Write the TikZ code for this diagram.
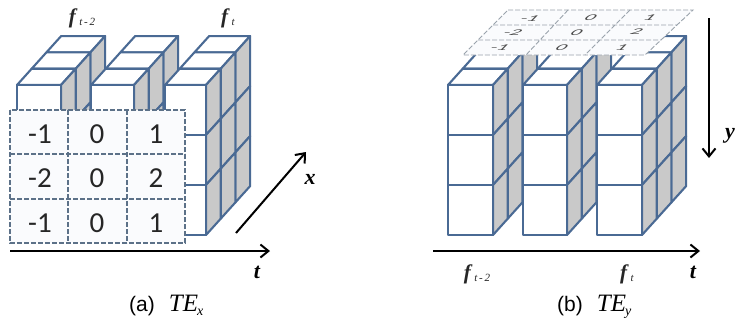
\documentclass[tikz,border=0pt]{standalone}
\usepackage{fontspec}
\setmainfont{Liberation Sans}
\newfontfamily\lblfont{Liberation Serif}
\newfontfamily\numfont{Carlito}
\usetikzlibrary{arrows.meta}
\definecolor{barblue}{HTML}{4A6A94}
\definecolor{sidegray}{HTML}{C9C9C9}
\definecolor{dashA}{HTML}{5C7188}
\definecolor{dashB}{HTML}{9AA3AC}
\definecolor{cellfill}{HTML}{FAFBFD}
\tikzset{
  facetop/.style={draw=barblue,line width=2.1pt,fill=white,line join=round},
  faceside/.style={draw=barblue,line width=2.1pt,fill=sidegray,line join=round},
  facefront/.style={draw=barblue,line width=2.1pt,fill=white,line join=round},
  axisarrow/.style={draw=black,line width=2pt,-{Straight Barb[length=8pt,width=13pt,line width=2pt]}},
  gridA/.style={draw=dashA,line width=1.3pt,dash pattern=on 5pt off 2pt},
  gridB/.style={draw=dashB,line width=.9pt,dash pattern=on 5pt off 2pt},
  tablenum/.style={font=\numfont\fontsize{29}{29}\selectfont,text=black!85,inner sep=0pt},
  flatnum/.style={font=\numfont\fontsize{21}{21}\selectfont,text=black!70,inner sep=0pt,transform shape,xslant=1.0,yscale=.42},
  axislabel/.style={font=\lblfont\bfseries\itshape\fontsize{22}{22}\selectfont,inner sep=0pt},
  framelabel/.style={font=\lblfont\itshape\fontsize{21}{21}\selectfont,inner sep=0pt,text=black!85},
  caption/.style={font=\fontsize{21}{21}\selectfont,inner sep=0pt,anchor=base west},
}
\newcommand{\capmath}[2]{{\lblfont\itshape\fontsize{25}{25}\selectfont #1\kern-1pt\raisebox{-4pt}{\fontsize{14}{14}\selectfont #2}}}
% #1 front-left x, #2 width, #3 dx of a depth step
\newcommand{\slicebar}[3]{%
  \foreach \i in {2,1,0}{%
    \pgfmathsetmacro{\xa}{#1+\i*#3}\pgfmathsetmacro{\xb}{\xa+#2}%
    \pgfmathsetmacro{\ya}{85-\i*16.3}%
    \path[facetop] (\xa,\ya) -- (\xb,\ya) -- (\xb+#3,\ya-16.3) -- (\xa+#3,\ya-16.3) -- cycle;
    \foreach \j in {0,1,2}{%
      \pgfmathsetmacro{\yb}{\ya+\j*50}%
      \path[faceside] (\xb,\yb) -- (\xb+#3,\yb-16.3) -- (\xb+#3,\yb+33.7) -- (\xb,\yb+50) -- cycle;
    }
  }
  \foreach \j in {0,1,2}{%
    \pgfmathsetmacro{\yb}{85+\j*50}%
    \path[facefront] (#1,\yb) rectangle (#1+#2,\yb+50);
  }
}
\begin{document}
\begin{tikzpicture}[x=1pt,y=-1pt]
\useasboundingbox (0,0) rectangle (736,322);
\fill[white] (0,0) rectangle (736,322);
% ---------- (a)
\slicebar{17}{44}{14.7}
\slicebar{91}{43}{14.7}
\slicebar{165}{41}{14.7}
\fill[cellfill] (10,110) rectangle (185,243);
\draw[gridA] (10,110) rectangle (185,243);
\draw[gridA] (68,110) -- (68,243) (127,110) -- (127,243) (10,154) -- (185,154) (10,199) -- (185,199);
\node[tablenum] (a11) at (40,134) {-1};
\node[tablenum] (a12) at (97,134) {0};
\node[tablenum] (a13) at (156,134) {1};
\node[tablenum] (a21) at (40,178) {-2};
\node[tablenum] (a22) at (97,178) {0};
\node[tablenum] (a23) at (156,178) {2};
\node[tablenum] (a31) at (40,223) {-1};
\node[tablenum] (a32) at (97,223) {0};
\node[tablenum] (a33) at (156,223) {1};
\coordinate (atS) at (10,251);
\coordinate (atE) at (270,251);
\coordinate (axS) at (236,233);
\coordinate (axE) at (306,152);
\draw[axisarrow] (atS) -- (atE);
\draw[axisarrow] (axS) -- (axE);
\node[axislabel] (alt) at (257,272) {t};
\node[axislabel] (alx) at (310,179) {x};
\node[framelabel] (af1) at (82,18) {\textbf{f}\,\raisebox{-2pt}{\fontsize{11}{11}\selectfont t\,-\,2}};
\node[framelabel] (af2) at (228,18) {\textbf{f}\,\raisebox{-2pt}{\fontsize{11}{11}\selectfont t}};
\node[caption] (capa) at (129,311) {(a)\hspace{14pt}\capmath{TE}{x}};
% ---------- (b)
\slicebar{448}{45}{14.7}
\slicebar{523}{44}{14.7}
\slicebar{597}{45}{14.7}
\fill[cellfill] (508,10) -- (693,10) -- (645,55) -- (463,55) -- cycle;
\draw[gridB] (508,10) -- (693,10) -- (645,55) -- (463,55) -- cycle;
\draw[gridB] (568,10) -- (526,55) (630,10) -- (585,55) (493,25) -- (677,25) (478,40) -- (661,40);
\node[flatnum] (b11) at (530,19) {-1};
\node[flatnum] (b12) at (591,18) {0};
\node[flatnum] (b13) at (650,18) {1};
\node[flatnum] (b21) at (513,33) {-2};
\node[flatnum] (b22) at (577,33) {0};
\node[flatnum] (b23) at (637,32) {2};
\node[flatnum] (b31) at (500,48) {-1};
\node[flatnum] (b32) at (562,48) {0};
\node[flatnum] (b33) at (622,48) {1};
\coordinate (btS) at (433,251);
\coordinate (btE) at (700,251);
\coordinate (byS) at (709,18);
\coordinate (byE) at (709,158);
\draw[axisarrow] (btS) -- (btE);
\draw[axisarrow] (byS) -- (byE);
\node[axislabel] (blt) at (693,272) {t};
\node[axislabel] (bly) at (730,136) {y};
\node[framelabel] (bf1) at (477,274) {\textbf{f}\,\raisebox{-2pt}{\fontsize{11}{11}\selectfont t\,-\,2}};
\node[framelabel] (bf2) at (627,274) {\textbf{f}\,\raisebox{-2pt}{\fontsize{11}{11}\selectfont t}};
\node[caption] (capb) at (557,311) {(b)\hspace{14pt}\capmath{TE}{y}};
\end{tikzpicture}
\end{document}
